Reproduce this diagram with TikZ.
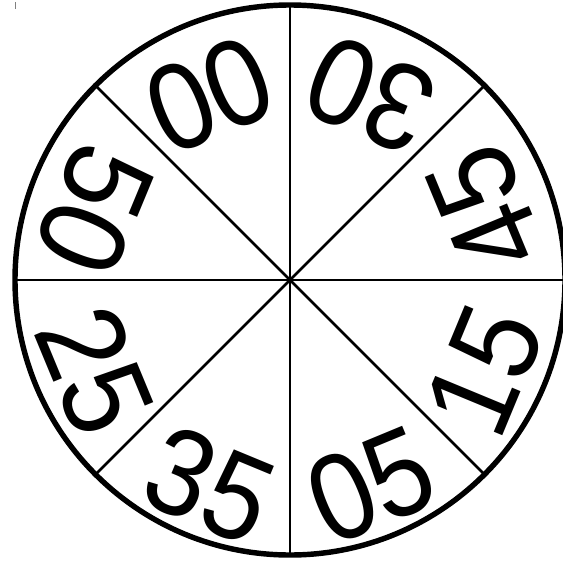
\documentclass[tikz,border=0pt]{standalone}
\usepackage{fontspec}
\setmainfont{Liberation Sans}
\usetikzlibrary{calc}

\begin{document}
\begin{tikzpicture}[
    x=0.02cm, y=0.02cm,
    rim/.style={line width=3.1pt},
    divider/.style={line width=1.5pt},
    num/.style={font=\fontsize{70}{76}\selectfont, inner sep=0pt, anchor=center}
]
\useasboundingbox (0,0) rectangle (563,562);
\coordinate (c) at (290,282);
\coordinate (ring) at (290,272);
% spokes between the sectors
\foreach \a in {0,45,...,315}
    \draw[divider] (c) -- ($(c)+(\a:275)$);
\draw[rim] (c) circle[radius=275];
% one number per sector, top turned to the centre
\foreach \a/\t [count=\i] in {112.5/00, 67.5/30, 22.5/45, -22.5/15, -67.5/05, -112.5/35, -157.5/25, 157.5/50}
    \node[num, rotate=\a+90, xscale=0.9] (n\i) at ($(ring)+(\a:211)$) {\t};
\draw[gray, line width=0.8pt] (15.5,553) -- (15.5,560);
\end{tikzpicture}
\end{document}
